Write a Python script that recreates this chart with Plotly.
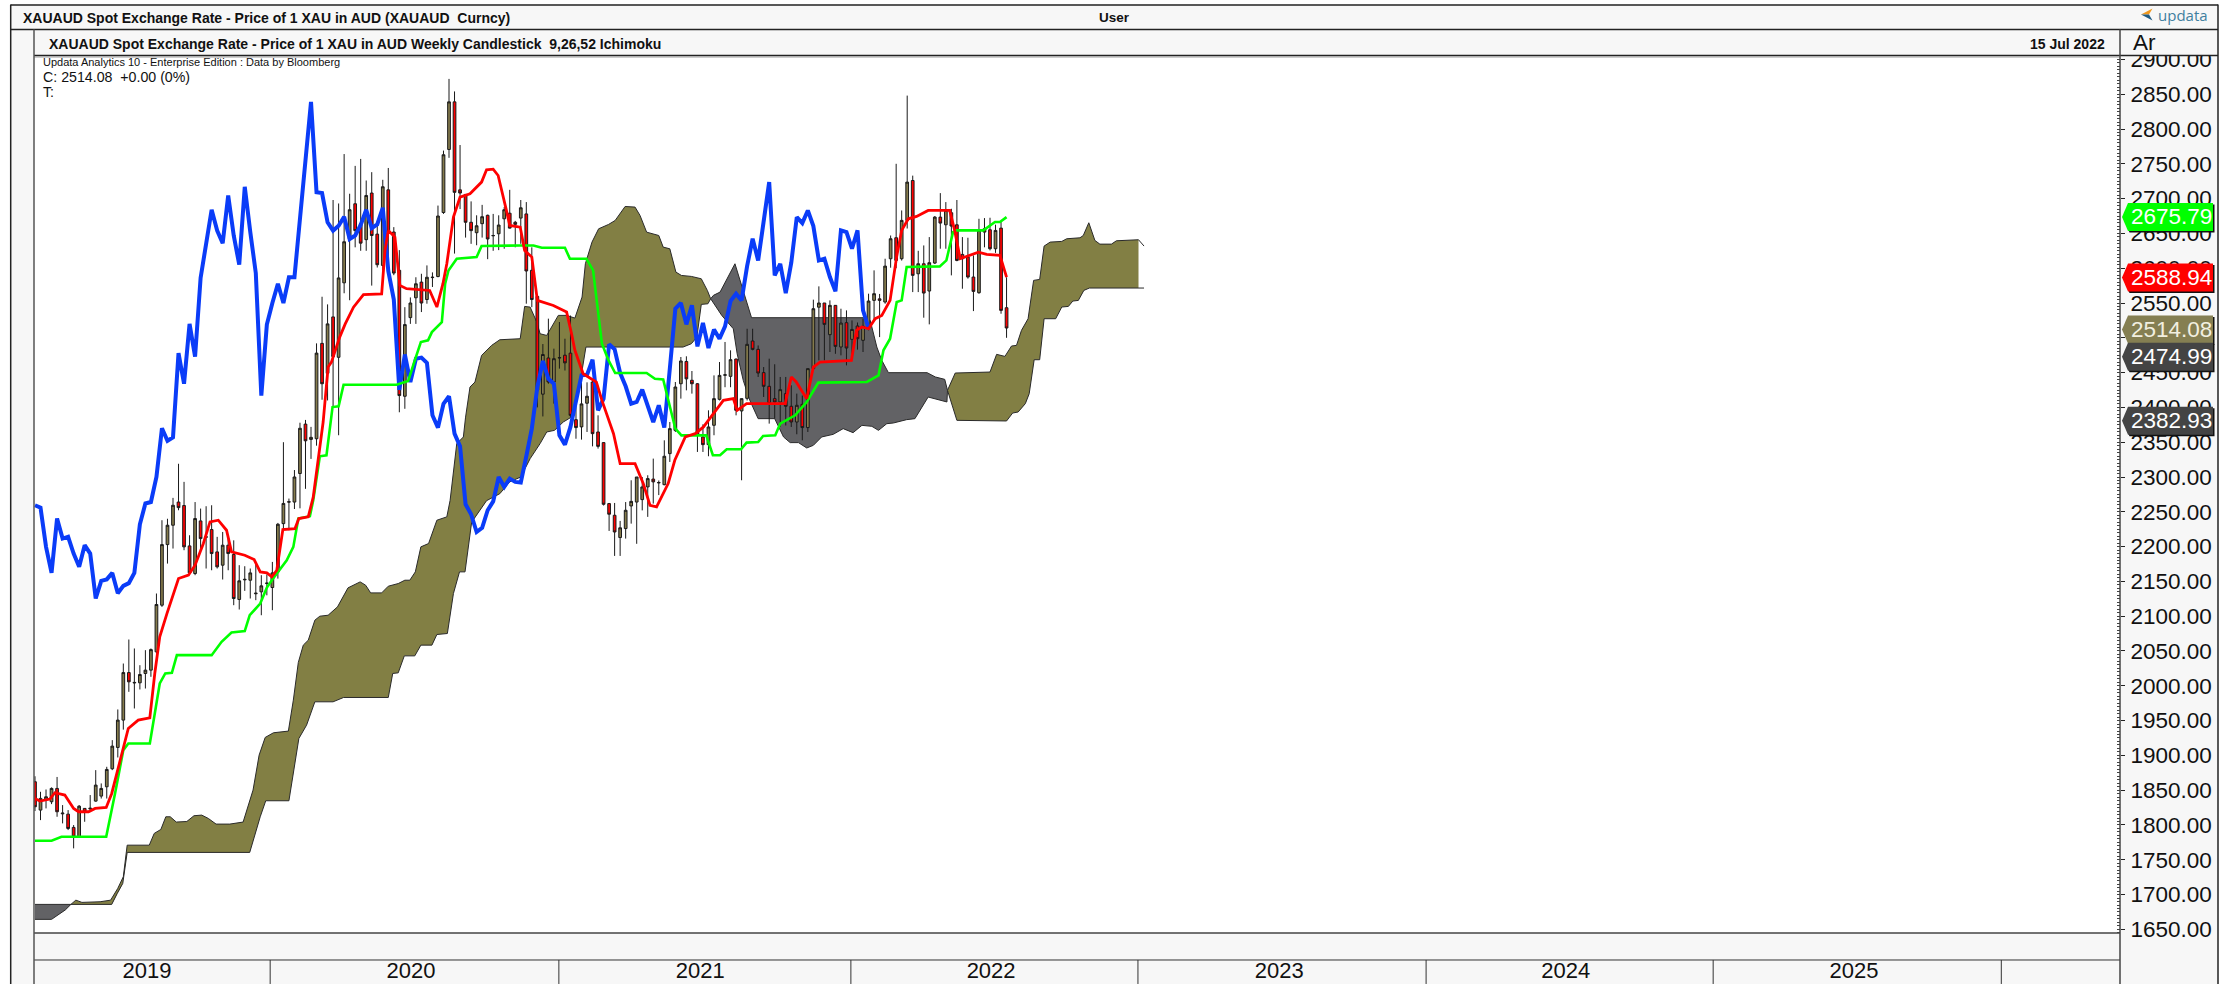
import plotly.graph_objects as go

# ---------- candles (weekly, week index 0..176) ----------
opens = [
 1862.1,1821.4,1836.7,1833.4,1852.5,1816,1815.6,1796.5,1783,1823.8,
 1823,1834.3,1841.5,1854.9,1880.8,1911.4,1950.7,2019,2004,2004.3,
 2017.7,2022.5,2048.8,2115.8,2202.9,2230.7,2264,2259,2201,2161.3,
 2236.9,2213.5,2224.5,2192.4,2173.3,2202,2188.6,2124,2152.2,2151.7,
 2132.2,2135,2147,2141.2,2163.7,2233,2264.5,2264,2305,2376,
 2354,2355,2492,2449,2530,2472,2579,2642,2692.6,2664,
 2641,2708,2649,2604,2712.6,2652,2597,2416,2529,2557.5,
 2580,2555,2586.5,2588,2680,2770.6,2839,2712.6,2706,2666,
 2651,2664,2676,2646.5,2649.5,2671,2679,2666,2672,2678,
 2597,2559.5,2419,2471,2436.5,2471,2475,2478,2382.4,2372,
 2406,2436.5,2364.7,2349.4,2261.8,2245,2213,2225.9,2258.4,2264,
 2267.5,2285.7,2297,2291.5,2289,2333.6,2367,2434,2466,2439,
 2434,2357.5,2346.5,2374.3,2411.6,2446.2,2444.6,2469.5,2394.9,2413,
 2495.4,2483.4,2450,2430.3,2412.6,2407.8,2419.8,2401.6,2379,2404.4,
 2371,2455.7,2544,2550,2504.5,2546.6,2486.8,2521.7,2497.8,2517,
 2496.4,2516.5,2553.8,2556,2551.4,2613.6,2643.8,2613.6,2668.6,2726,
 2592,2606.4,2567.2,2607.4,2673.4,2662.4,2679.7,2662.4,2619.8,2616,
 2587.3,2564.8,2656.7,2655.3,2628,2657.6,2543.2]
highs = [
 1870,1847.7,1851,1854,1869,1828.6,1821.4,1799.9,1828.6,1824,
 1843,1878.8,1859.7,1883.6,1921.9,1966,2032,2066.5,2053.6,2029.6,
 2051.2,2053.6,2132.6,2237.9,2240,2270,2319,2293,2216.3,2264,
 2254.6,2258,2259.4,2214,2221,2211.5,2209,2173.3,2171.8,2168.5,
 2178,2158.9,2160,2178,2234,2350,2269,2310,2378,2382,
 2372,2492,2559,2548,2698,2693,2764,2707,2747,2757,
 2726,2738,2668,2727,2744,2659,2626,2544,2558,2587,
 2592,2604,2594,2690,2769,2872,2854,2777,2706,2696,
 2676,2691,2677,2678,2676,2688,2712.6,2668,2698,2695,
 2630,2560,2491,2527.5,2484.4,2522.7,2498.7,2532,2405,2436,
 2436,2439,2388.6,2350,2262.7,2262.7,2236.9,2264,2295.3,2300,
 2300,2302.5,2326.4,2295,2352.7,2379,2436.5,2472.4,2473.4,2452.3,
 2435,2375.7,2395.8,2446,2465.2,2494,2482,2470,2412.6,2513,
 2513,2489,2458,2470,2462,2443.7,2443.7,2431.7,2419.8,2417,
 2455.7,2554.8,2573.9,2550,2553.8,2547,2541.8,2539.4,2525,2522,
 2527.5,2563.4,2596.9,2563,2613.6,2647,2750,2683,2848,2733,
 2625,2632.7,2644.7,2675,2707.9,2695,2685.4,2698,2644.7,2643.8,
 2618.4,2671,2672,2672.5,2662.5,2666.3,2587]
lows = [
 1820,1807,1823.8,1830,1811.8,1802.3,1792.7,1766.4,1782,1804.6,
 1821.4,1833.4,1838,1838,1878.8,1897,1937,1991.3,1967.4,1994.7,
 1996.1,2012.9,2046.4,2113.4,2175.6,2197.2,2252.2,2194.8,2158.9,2158.9,
 2197.2,2168.5,2166,2168.5,2152.7,2166,2115.8,2109.6,2136.4,2125.4,
 2123,2101.4,2130,2108.6,2154,2223,2223.5,2254,2255,2283,
 2326,2345,2411,2410,2400,2360,2564,2554,2630,2625,
 2625,2575,2601,2597,2597,2590,2393,2398,2520,2520,
 2537,2549,2573,2587,2678,2758.6,2621,2685,2644,2635,
 2633,2644,2613,2625,2626,2628,2657,2630,2635,2549,
 2544,2400,2387,2434,2405.4,2455.7,2453,2386,2355,2353.7,
 2364.7,2344,2340.8,2259,2222.5,2186.6,2186.6,2211.5,2233,2204,
 2252,2242.7,2261.8,2274,2288,2321.6,2364.7,2412.6,2424.5,2419.8,
 2336,2336,2329.8,2360,2410,2429,2429,2388.6,2295.3,2410,
 2482,2443.7,2415,2376.7,2383.9,2371.9,2374,2371.9,2361.4,2352.7,
 2364.7,2454,2467.6,2467.6,2479.6,2477,2474.8,2460.4,2472.4,2483,
 2479.6,2510.7,2524.1,2501,2549,2600.7,2600,2611,2657,2565.7,
 2565.7,2528.9,2519.3,2606,2628,2628,2589.7,2610,2570.5,2585,
 2538.4,2563.3,2630,2625.6,2622,2534.6,2500]
closes = [
 1826.2,1838.2,1840.5,1852.5,1819,1817,1795,1783,1827,1819,
 1824,1857.3,1852.5,1879.8,1913.3,1950.7,2019,2005.7,2004.8,2016.2,
 2022.5,2052,2116.8,2202.9,2230.7,2259.4,2256,2199.6,2162.2,2240.3,
 2211.5,2214,2190,2170.9,2202,2190,2125.4,2150.8,2152.9,2162.2,
 2133,2143.6,2147.5,2162.2,2232.1,2262,2264,2300,2370,2352,
 2357,2478,2434,2520,2473,2586,2638,2684,2654,2636,
 2704.5,2647,2605,2717,2652,2593,2417,2519,2550,2577.6,
 2550,2587,2587,2675,2763,2839,2709,2708,2666,2654,
 2661,2674,2642,2647,2662,2684,2657.6,2663,2686.8,2596,
 2555,2425,2476,2436.5,2470,2471.5,2464,2388.6,2371,2405,
 2416,2362.3,2344,2260.8,2246.5,2221,2227,2252.2,2265,2300,
 2285.7,2297.7,2293,2292,2329.8,2369.5,2429.3,2466.7,2441,2434,
 2360,2346.5,2371.9,2412.6,2446,2446.8,2468.6,2395.8,2412.6,2490.6,
 2483.4,2449.4,2430.3,2405.4,2407.8,2425.5,2401.6,2379,2403,2371,
 2455.7,2541.8,2550,2519.3,2546.6,2487.7,2521.2,2485.3,2512,2498.7,
 2516.5,2552.8,2563.4,2553.8,2603,2642.3,2611.2,2668.7,2723.7,2589.7,
 2606.4,2564.3,2607.9,2673.4,2664.8,2683,2660.5,2611.2,2613.6,2587.3,
 2566.7,2654.3,2651.9,2628,2654.3,2539.4,2514.08]
weeks = list(range(len(closes)))

# ---------- Ichimoku lagging line (blue), week 0..151 ----------
chikou = [
 2259.4,2256,2199.6,2162.2,2240.3,
 2211.5,2214,2190,2170.9,2202,2190,2125.4,2150.8,2152.9,2162.2,
 2133,2143.6,2147.5,2162.2,2232.1,2262,2264,2300,2370,2352,
 2357,2478,2434,2520,2473,2586,2638,2684,2654,2636,
 2704.5,2647,2605,2717,2652,2593,2417,2519,2550,2577.6,
 2550,2587,2587,2675,2763,2839,2709,2708,2666,2654,
 2661,2674,2642,2647,2662,2684,2657.6,2663,2686.8,2596,
 2555,2425,2476,2436.5,2470,2471.5,2464,2388.6,2371,2405,
 2416,2362.3,2344,2260.8,2246.5,2221,2227,2252.2,2265,2300,
 2285.7,2297.7,2293,2292,2329.8,2369.5,2429.3,2466.7,2441,2434,
 2360,2346.5,2371.9,2412.6,2446,2446.8,2468.6,2395.8,2412.6,2490.6,
 2483.4,2449.4,2430.3,2405.4,2407.8,2425.5,2401.6,2379,2403,2371,
 2455.7,2541.8,2550,2519.3,2546.6,2487.7,2521.2,2485.3,2512,2498.7,
 2516.5,2552.8,2563.4,2553.8,2603,2642.3,2611.2,2668.7,2723.7,2589.7,
 2606.4,2564.3,2607.9,2673.4,2664.8,2683,2660.5,2611.2,2613.6,2587.3,
 2566.7,2654.3,2651.9,2628,2654.3,2539.4,2514.08]
chikou_x = list(range(len(chikou)))

# ---------- conversion line (red) ----------
tenkan_x = [0,.9,2.7,3.6,5.4,7,7.9,9.7,10.9,12.9,13.9,14.8,15.9,16.9,18.7,20.8,21.7,22.6,23.9,26,27.8,29,30.5,31.7,33.2,34.7,35.6,38,39.7,40.8,42,42.9,43.8,44.9,47.1,47.8,49.5,50.4,52.2,53.1,53.7,55.2,56.2,57.7,59.5,62.8,63.4,64,65.2,66.1,67.3,71.5,72.8,73.9,74.6,75.8,77,78.8,80.9,81.8,83,83.9,85.4,86,87.9,88.7,90,91,93.9,96.3,97.2,97.8,99.3,101.7,102.7,104.8,106,108.7,110.2,111.4,112.6,114.7,115.9,117.8,119.6,121.1,122.9,124.7,126.5,127.2,128.9,135.9,137,137.9,139.8,141,142.2,147.9,148.8,149.8,151,152.2,153.4,154.9,156.1,157,158.2,159.7,161.8,165.7,166.6,167.6,170.9,172.4,174.8,176]
tenkan = [1838.2,1834.3,1837.2,1846.3,1843,1823.8,1819,1819,1823.8,1825.2,1845.3,1874,1907.6,1938.7,1950.7,1954,2017.7,2070.3,2103.8,2154.1,2158.9,2173.3,2204.4,2235.5,2237.9,2223.5,2192.4,2187.6,2181.4,2163.7,2162.2,2156.5,2166,2224.5,2225.9,2240.3,2242.7,2271,2379,2458,2465,2501,2520,2544,2562,2563,2625.5,2654,2644.7,2575.3,2570.5,2568,2544.2,2577.7,2606.4,2673.4,2702,2707,2723.7,2741.4,2742.3,2733.2,2683,2661.4,2659,2625.5,2616,2553.7,2546.5,2537,2505.8,2482,2448.4,2436.4,2410,2362.2,2319.2,2319.2,2290.5,2259.4,2257,2290.5,2324,2357.5,2362.3,2371.9,2391,2410.2,2412.6,2395.8,2405.4,2405.4,2443.7,2436.5,2412.6,2458,2465.2,2467.6,2510.7,2515.5,2513,2527.5,2532.2,2553.8,2617,2654.3,2671,2674.4,2683,2683,2654.3,2613.6,2623,2619.8,2618.4,2587.3]

# ---------- base line (green) ----------
kijun_x = [0,3,4.8,12.9,14.5,16,16.9,20.8,22.6,23.6,24.8,25.7,32,33.8,35.6,38,38.9,40.8,42,42.9,45.6,46.8,47.7,49.8,50.4,51.6,52.8,53.9,55,55.9,65.5,67.6,68.8,69.9,71.2,71.9,73.7,74.3,74.9,76.4,80,80.9,87.9,90.3,91.8,96,96.9,99.9,101.1,102.7,103.9,105.1,110.8,112.3,113.8,116,117.1,121.6,122.8,124.1,125.3,127.9,128.9,131,131.9,134.1,135,137.7,139.8,141.9,150.7,152.8,153.7,154.9,156.1,157,157.9,163.9,165.1,166.3,166.9,171.8,173.9,174.8,176]
kijun = [1777.4,1777.4,1783,1783,1845.3,1907.6,1917,1917,2003.3,2017.7,2018.6,2044,2044,2063.2,2076.5,2078.5,2101.4,2118.2,2141.2,2151.7,2180.4,2199.6,2240.3,2243.6,2266.6,2329.7,2331.1,2400.5,2401.5,2432.6,2432.6,2437.9,2467.6,2493.9,2496.3,2508.2,2522.6,2577.7,2596.8,2613.6,2616,2631.8,2632.7,2632.7,2629.3,2629.3,2613.6,2613.6,2596.8,2491.5,2467.6,2449.4,2449.4,2441.2,2440.3,2369.4,2359.8,2359.8,2331.2,2331.2,2339.8,2339.8,2349.4,2350.3,2359,2359.9,2376.7,2388.6,2407.8,2435.6,2436.5,2446,2482,2498.7,2551.4,2553.8,2601.7,2602.6,2611.2,2651.9,2654.3,2654.3,2666.3,2666.3,2673.4]

# ---------- cloud edges, by colour run ----------
dark1_x_top = [0,6.5]
dark1_top = [1685.9,1685.9]
dark1_x_bot = [0,3,5.5,6.5]
dark1_bot = [1664.4,1664.4,1678,1685.9]

olive1_x_top = [6.5,7.4,8.5,11.8,13.7,15,16,16.7,20.7,21.6,22.8,23.7,24.5,25.6,27.5,28.8,30.2,31.4,32.8,35.3,37.7,38.6,39.5,40.6,41.7,43.2,45.9,46.8,47.7,48.6,49.5,50.7,51.6,53.1,54.8,56.7,58.9,59.9,60.8,62.8,64,65.8,67,67.9,68.9,69.9,71.3,72.8,74.6,75.2,76.4,77.6,78,78.8,79.7,80.9,82.7,84.2,87.9,88.7,89.7,90.9,91.5,92.7,94.8,96.3,97.8,99.1,99.7,100.9,102.1,103.9,105.1,106.9,108.7,109.6,110.8,113,113.8,115,116.1,117.1,118.9,120.7,121.8,122.4]
olive1_top = [1685.9,1692,1688.8,1689.7,1692,1709,1725.7,1771,1771,1787.9,1793.6,1811.8,1811.8,1804.2,1805,1813.3,1814.2,1809.4,1801.3,1801.3,1804.2,1826.2,1850.1,1900.4,1925.8,1932.5,1934.9,1979.4,2033.5,2058.4,2065.5,2094.3,2100,2101.4,2113.4,2140.7,2149.3,2144.5,2133.5,2133.5,2143.1,2146.9,2151.7,2151.7,2163.7,2199.6,2204.4,2237.9,2242.7,2266.5,2347.9,2357.5,2386,2429.3,2436.4,2474.7,2489,2497.2,2498.7,2545.1,2544.1,2522.6,2505.8,2503.4,2532.2,2532.2,2528.3,2558.5,2606.4,2637.5,2656.6,2662.9,2668.6,2688.7,2687.8,2675.8,2651.8,2647,2630.3,2627.9,2594.4,2589.6,2588.2,2584.8,2568,2556.1]
olive1_x_bot = [6.5,13.9,14.9,15.9,16.7,38.9,40.8,41.8,46,46.9,47.8,49.2,50.7,54,55.9,64,64.8,65.8,66.9,68.8,69.9,71.9,72.8,74.7,75.8,76.9,77.9,79.1,80,81.8,84.2,86,88,89.7,91.5,92.7,94.1,95.7,97.2,99,99.8,117.4,118.9,119.9,120.7,121.9,122.4]
olive1_bot = [1685.9,1685.9,1701.7,1716,1760.6,1760.6,1811.8,1834.8,1834.8,1881.2,1924.3,1943.5,1977,1977,1983.2,1983.2,2017.7,2018.6,2043,2043,2058.4,2058.4,2073.7,2075.1,2132.6,2163.7,2163.7,2235,2245,2266,2276,2293,2300,2326.4,2348,2364.7,2367,2379,2386.2,2448,2486.7,2486.7,2491.5,2501,2548,2548.9,2556.1]

dark2_x_top = [122.4,122.9,124.1,126.8,129.8,150.1,151.3,152.5,153.4,154.6,161.6,163.1,164.8,165.3]
dark2_top = [2556.1,2561,2565.7,2606.4,2528.9,2528.9,2525,2486.7,2467.6,2449.9,2449.9,2443.7,2440.3,2424.5]
dark2_x_bot = [122.4,124.4,126.5,127.2,128.3,129.5,131,134,135.6,136.8,138.3,139.8,141,142.5,144.6,146.4,148.2,149.8,151.6,152.8,154.3,155.5,157.9,159.4,161.8,165.2,165.3]
dark2_bot = [2556.1,2532.2,2513,2477,2438.9,2410,2383.8,2383.8,2357.5,2349.4,2349.4,2341.7,2345.5,2357.5,2361.3,2369.5,2363.7,2374.2,2372.8,2367,2376.6,2377.6,2382.4,2383.8,2414.9,2407.8,2424.5]

olive2_x_top = [165.3,166.7,173,174.2,175.7,176.9,177.8,178.7,179.9,180.9,182,182.8,183.9,186,186.9,189.3,189.9,190.9,192,192.9,195,195.9,199.9,200.9]
olive2_top = [2424.5,2449.4,2450.8,2476.2,2473.3,2488.2,2489.1,2510.7,2527.4,2582.5,2583.9,2631.8,2637.5,2638.5,2642.3,2643.7,2647,2665.3,2639.9,2634.6,2634.6,2639.4,2640.9,2631.8]
olive2_x_bot = [165.3,167,176,177.1,178.1,179.4,180.1,181,182,182.8,184.9,186,187.2,188,189,190,191,200.9]
olive2_bot = [2424.5,2381.4,2380.5,2391.9,2393.4,2405.4,2419.7,2468.5,2468.5,2527.4,2527.4,2544.2,2545.1,2552.8,2553.7,2568.1,2571.5,2571.5]

# ---------- axis text ----------
year_labels = ["2019","2020","2021","2022","2023","2024","2025"]
year_centres = [20.3,68.1,120.5,173.2,225.4,277.3,329.5]
year_starts = [42.6,94.9,147.8,199.8,252,304,356.2]
tag_values = [2675.79,2588.94,2514.08,2474.99,2382.93]
tag_fills = ["#00ff00","#ff0000","#857f52","#444444","#444444"]

# ---------- styling ----------
W, H = 2236, 984
L, R, T, B = 34, 2120, 55.5, 933
OLIVE, GREY, PANEL = "#827f44", "#626265", "#f7f7f7"
CANDLE = "#857b4c"
FONT = "Liberation Sans, Arial, sans-serif"
XR = [-0.18, 377.7]
YR = [1644.8, 2904.9]
def px(x): return (x - L) / (R - L)
def py(y): return (B - y) / (B - T)

fig = go.Figure()

def cloud(xt, yt, xb, yb, colour, fill_end=None):
    tx, ty = list(xt), list(yt)
    bx, by = list(xb), list(yb)
    if fill_end is not None:
        tx[-1], ty[-1] = fill_end[0], fill_end[1]
        bx[-1] = fill_end[0]
    fig.add_trace(go.Scatter(x=tx + bx[::-1], y=ty + by[::-1], mode="lines", fill="toself",
                             fillcolor=colour, line=dict(width=0), hoverinfo="skip", xaxis="x", yaxis="y"))
    for a, b in ((xt, yt), (xb, yb)):
        fig.add_trace(go.Scatter(x=a, y=b, mode="lines", line=dict(color="#2a2a2a", width=1),
                                 hoverinfo="skip", xaxis="x", yaxis="y"))

cloud(dark1_x_top, dark1_top, dark1_x_bot, dark1_bot, GREY)
cloud(olive1_x_top, olive1_top, olive1_x_bot, olive1_bot, OLIVE)
cloud(dark2_x_top, dark2_top, dark2_x_bot, dark2_bot, GREY)
cloud(olive2_x_top, olive2_top, olive2_x_bot, olive2_bot, OLIVE, fill_end=(199.9, 2640.9))

fig.add_trace(go.Candlestick(x=weeks, open=opens, high=highs, low=lows, close=closes,
    increasing=dict(fillcolor=CANDLE, line=dict(color="#1a1a1a", width=1)),
    decreasing=dict(fillcolor="#ff0000", line=dict(color="#1a1a1a", width=1)),
    whiskerwidth=0, xaxis="x2", yaxis="y2"))
fig.add_trace(go.Scatter(x=chikou_x, y=chikou, mode="lines", line=dict(color="#0a3cf8", width=4), xaxis="x2", yaxis="y2"))
fig.add_trace(go.Scatter(x=kijun_x, y=kijun, mode="lines", line=dict(color="#00ff00", width=2.6), xaxis="x2", yaxis="y2"))
fig.add_trace(go.Scatter(x=tenkan_x, y=tenkan, mode="lines", line=dict(color="#ff0000", width=2.8), xaxis="x2", yaxis="y2"))

shapes, ann = [], []
def rect(x0, y0, x1, y1, fill, layer="below"):
    shapes.append(dict(type="rect", xref="paper", yref="paper", x0=px(x0), x1=px(x1), y0=py(y0), y1=py(y1),
                       fillcolor=fill, line=dict(width=0), layer=layer))
def hline(x0, x1, y, c="#222222", w=1.5):
    shapes.append(dict(type="line", xref="paper", yref="paper", x0=px(x0), x1=px(x1), y0=py(y), y1=py(y),
                       line=dict(color=c, width=w), layer="above"))
def vline(x, y0, y1, c="#222222", w=1.5):
    shapes.append(dict(type="line", xref="paper", yref="paper", x0=px(x), x1=px(x), y0=py(y0), y1=py(y1),
                       line=dict(color=c, width=w), layer="above"))
def text(x, y, s, size, color="#111111", anchor="left", bold=False, family=FONT):
    ann.append(dict(xref="paper", yref="paper", x=px(x), y=py(y), text=f"<b>{s}</b>" if bold else s, showarrow=False,
                    xanchor=anchor, yanchor="middle", font=dict(size=size, color=color, family=family), align="left"))

# panels
rect(10.7, 29, L, H, PANEL)
rect(R, 29, 2218, H, PANEL)
rect(L, B, R, H, PANEL)
rect(10.7, 4, 2218, T, PANEL, layer="above")
for y, x0 in ((4.5, 10.7), (29, 10.7), (55, L)):
    hline(x0, 2218, y)
hline(L, R, 56.5, "#999999", 1)
hline(L, R, B, "#444444", 1.5)
hline(L, R, 960, "#333333", 1)
vline(10.7, 4, H)
vline(2218, 4, H)
vline(L, 29, H, "#555555", 1.5)
vline(R, 29, H, "#444444", 1.5)
for s in year_starts:
    shapes.append(dict(type="line", xref="x", yref="paper", x0=s, x1=s, y0=py(960), y1=py(H),
                       line=dict(color="#333333", width=1), layer="above"))

# header text
text(21, 17, "XAUAUD Spot Exchange Rate - Price of 1 XAU in AUD (XAUAUD  Curncy)", 14, bold=True)
text(1114, 17, "User", 13.5, anchor="center", bold=True)
text(47, 43, "XAUAUD Spot Exchange Rate - Price of 1 XAU in AUD Weekly Candlestick  9,26,52 Ichimoku", 14, bold=True)
text(2107, 43, "15 Jul 2022", 14, anchor="right", bold=True)
text(2131, 42, "Ar", 22.5)
text(2156, 14, "updata", 15, color="#3f7f9f", family="Open Sans, Noto Sans, sans-serif")
text(41, 62, "Updata Analytics 10 - Enterprise Edition : Data by Bloomberg", 11)
text(41, 77, "C: 2514.08  +0.00 (0%)", 14.2)
text(41, 92, "T:", 14.2)

# logo arrow
def poly(points, colour):
    d = "M " + " L ".join(f"{px(a):.6f},{py(b):.6f}" for a, b in points) + " Z"
    shapes.append(dict(type="path", xref="paper", yref="paper", path=d, fillcolor=colour, line=dict(width=0), layer="above"))
poly([(2141, 14), (2152.5, 8), (2149, 14)], "#f0981e")
poly([(2141, 14), (2149, 14), (2152.5, 20)], "#1e5a82")

# price tags
TAG = "M {0},{1} L {2},{3} L 93,{3} L 93,{4} L {2},{4} Z"
for v, c in zip(tag_values, tag_fills):
    for (dx, dy, col) in ((1.5, -1.5, "#111111"), (0, 0, c)):
        path = TAG.format(2 + dx, -1.5 + dy, 8 + dx, 12.5 + dy, -15.5 + dy).replace("L 93,", f"L {93 + dx},")
        shapes.append(dict(type="path", xref="paper", yref="y", xsizemode="pixel", ysizemode="pixel",
                           xanchor=1, yanchor=v, path=path, fillcolor=col, line=dict(width=0), layer="above"))
    ann.append(dict(xref="paper", yref="y", x=px(2171), y=v, yshift=-1.5, text=f"{v:.2f}", showarrow=False,
                    xanchor="center", yanchor="middle", font=dict(size=22.5, color="#ffffff" if c != "#857f52" else "#f2efe0", family=FONT)))

fig.update_layout(
    width=W, height=H, paper_bgcolor="#ffffff", plot_bgcolor="#ffffff",
    margin=dict(l=L, r=W - R, t=T, b=H - B, pad=0, autoexpand=False), showlegend=False, hovermode=False, boxgap=0.3,
    xaxis=dict(range=XR, automargin=False, showgrid=False, zeroline=False, showline=False, tickmode="array",
               tickvals=year_centres, ticktext=year_labels, ticks="", ticklabelstandoff=22,
               tickfont=dict(size=22, color="#111111", family=FONT), rangeslider=dict(visible=False)),
    xaxis2=dict(range=XR, automargin=False, overlaying="x", matches="x", visible=False, rangeslider=dict(visible=False)),
    yaxis=dict(range=YR, automargin=False, side="right", showgrid=False, zeroline=False, showline=False,
               tick0=1650, dtick=50, tickformat=".2f", ticks="outside", ticklen=4, tickcolor="#222222",
               ticklabelstandoff=1, tickfont=dict(size=22.5, color="#111111", family=FONT),
               minor=dict(ticks="inside", ticklen=3, dtick=5, tick0=1650, tickcolor="#444444", showgrid=False)),
    yaxis2=dict(range=YR, automargin=False, overlaying="y", matches="y", side="right", visible=False),
    shapes=shapes, annotations=ann)

fig.write_html("out.html", config=dict(displayModeBar=False),
               post_script="document.body.style.margin='0';document.documentElement.style.overflow='hidden';")
